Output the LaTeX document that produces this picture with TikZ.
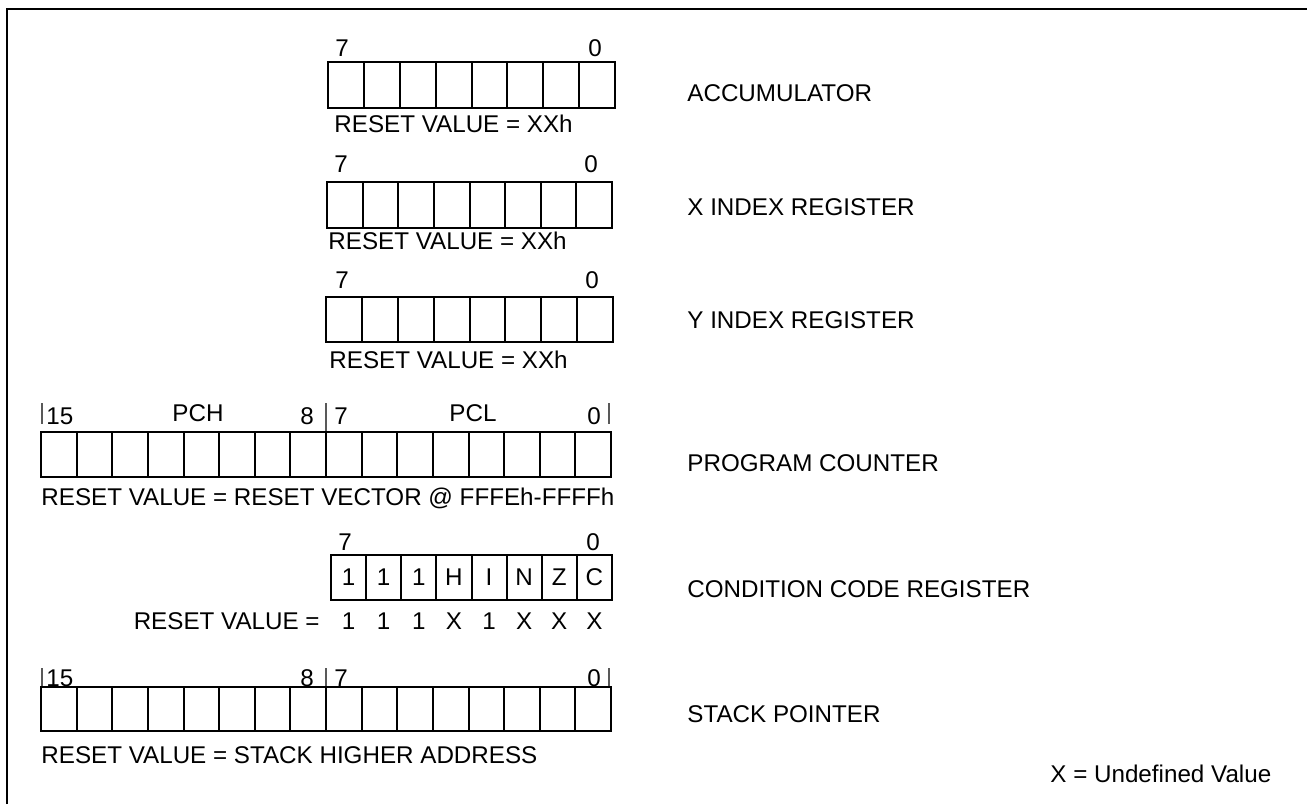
\documentclass[tikz,border=0pt]{standalone}
\usepackage{fontspec}
\setmainfont{Liberation Sans}
\newcommand\regcells[5]{%
  \draw[cellline] (#1,#2) rectangle (#3,#4);
  \foreach \k in {1,...,#5}
    \draw[cellline] ({#1+\k*(#3-#1)/(#5+1)},#2) -- ({#1+\k*(#3-#1)/(#5+1)},#4);}
\begin{document}
\begin{tikzpicture}[x=0.5pt,y=-0.5pt,
  txt/.style={inner sep=0pt, font=\fontsize{12.1}{14}\selectfont},
  cellline/.style={line width=1pt},
  frameline/.style={line width=1.3pt},
  tickline/.style={line width=0.6pt, black!65}]
\useasboundingbox (0,0) rectangle (1307,804);
% frame
\draw[frameline] (7,804) -- (7,9) -- (1307,9);

% ---------- Accumulator ----------
\node[txt, anchor=base] (a7) at (342,56) {7};
\node[txt, anchor=base] (a0) at (595,56) {0};
\regcells{328}{62}{615}{108}{7}
\node[txt, anchor=base west] (ares) at (334,132) {RESET VALUE = XXh};
\node[txt, anchor=base west] (alab) at (687,101) {ACCUMULATOR};

% ---------- X index ----------
\node[txt, anchor=base] (x7) at (341,172) {7};
\node[txt, anchor=base] (x0) at (591,172) {0};
\regcells{327}{182}{612}{228}{7}
\node[txt, anchor=base west] (xres) at (328,249) {RESET VALUE = XXh};
\node[txt, anchor=base west] (xlab) at (687,215) {X INDEX REGISTER};

% ---------- Y index ----------
\node[txt, anchor=base] (y7) at (342,288) {7};
\node[txt, anchor=base] (y0) at (592,288) {0};
\regcells{326}{297}{613}{342}{7}
\node[txt, anchor=base west] (yres) at (329,368) {RESET VALUE = XXh};
\node[txt, anchor=base west] (ylab) at (687,328) {Y INDEX REGISTER};

% ---------- Program counter ----------
\draw[tickline] (42,403) -- (42,424);
\draw[tickline] (326,403) -- (326,432);
\draw[tickline] (609,403) -- (609,424);
\node[txt, anchor=base west] (p15) at (46,424) {15};
\node[txt, anchor=base] (pch) at (198,421) {PCH};
\node[txt, anchor=base] (p8) at (307,424) {8};
\node[txt, anchor=base] (p7) at (341,424) {7};
\node[txt, anchor=base] (pcl) at (473,421) {PCL};
\node[txt, anchor=base] (p0) at (594,424) {0};
\regcells{41}{432}{611}{477}{15}
\node[txt, anchor=base west] (pres) at (41,505) {RESET VALUE = RESET VECTOR @ FFFEh-FFFFh};
\node[txt, anchor=base west] (plab) at (687,471) {PROGRAM COUNTER};

% ---------- Condition code register ----------
\node[txt, anchor=base] (c7) at (345,550) {7};
\node[txt, anchor=base] (c0) at (593,550) {0};
\regcells{331}{555}{612}{600}{7}
\foreach \t/\v [count=\j from 0] in {1/1,1/1,1/1,H/X,I/1,N/X,Z/X,C/X}{
  \node[txt, anchor=base] (cb\j) at ({331+17.56+\j*35.125},585) {\t};
  \node[txt, anchor=base] (cv\j) at ({331+17.56+\j*35.125},629) {\v};
}
\node[txt, anchor=base east] (cres) at (320,629) {RESET VALUE =};
\node[txt, anchor=base west] (clab) at (687,597) {CONDITION CODE REGISTER};

% ---------- Stack pointer ----------
\draw[tickline] (42,668) -- (42,686);
\draw[tickline] (326,668) -- (326,686);
\draw[tickline] (609,668) -- (609,686);
\node[txt, anchor=base west] (s15) at (46,686) {15};
\node[txt, anchor=base] (s8) at (307,686) {8};
\node[txt, anchor=base] (s7) at (341,686) {7};
\node[txt, anchor=base] (s0) at (594,686) {0};
\regcells{41}{687}{611}{731}{15}
\node[txt, anchor=base west] (sres) at (41,763) {RESET VALUE = STACK HIGHER ADDRESS};
\node[txt, anchor=base west] (slab) at (687,722) {STACK POINTER};

\node[txt, anchor=base west] (legend) at (1050,782) {X = Undefined Value};
\end{tikzpicture}
\end{document}
